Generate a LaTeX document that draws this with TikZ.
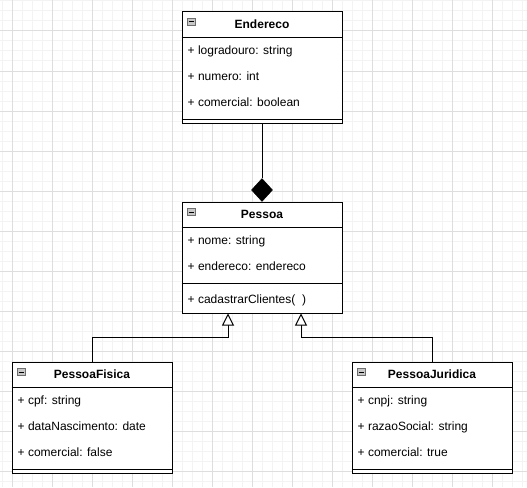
\documentclass[tikz,border=0pt]{standalone}
\usepackage{fontspec}
\setmainfont{Liberation Sans}
\usetikzlibrary{arrows.meta,shapes.geometric}
\definecolor{gridminor}{HTML}{F3F3F3}
\definecolor{gridmajor}{HTML}{DEDEDE}
\definecolor{iconfill}{HTML}{C8C8C8}
\definecolor{iconborder}{HTML}{6E6E6E}
\tikzset{
  boxline/.style={draw=black, line width=1pt},
  classbox/.style={draw=black, line width=1pt, fill=white, minimum width=160pt, minimum height=111pt, inner sep=0pt},
  classtitle/.style={font=\fontsize{12}{14}\selectfont\bfseries, anchor=base, inner sep=0pt},
  member/.style={font=\fontsize{12}{14}\selectfont, anchor=base west, inner sep=0pt},
  iconbox/.style={draw=iconborder, fill=iconfill, line width=0.8pt, minimum width=8pt, minimum height=7pt, inner sep=0pt},
  genarrow/.style={draw=black, line width=1pt, -{Triangle[length=12pt, width=12pt, fill=white]}},
  compdiamond/.style={diamond, fill=black, draw=black, line width=0.5pt, minimum width=21pt, minimum height=23pt, inner sep=0pt}
}
\newcommand\umlheader[2]{%
  \node[classtitle] (#1-title) at ([yshift=-17pt]#1.north) {#2};
  \draw[boxline] ([yshift=-26pt]#1.north west) -- ([yshift=-26pt]#1.north east);
  \node[iconbox] (#1-icon) at ([xshift=9.5pt,yshift=-10.5pt]#1.north west) {};
  \draw[line width=1pt] ([xshift=-2.5pt]#1-icon.center) -- ([xshift=2.5pt]#1-icon.center);
}
\newcommand\umlfoot[1]{%
  \draw[boxline] ([yshift=4pt]#1.south west) -- ([yshift=4pt]#1.south east);
}
\newcommand\umlmember[3]{%
  \node[member] (#1-m#2) at ([xshift=6pt,yshift=-#2pt]#1.north west) {#3};
}
\begin{document}
\begin{tikzpicture}[x=1pt,y=-1pt]
\useasboundingbox (0,0) rectangle (527,487);
\fill[white] (0,0) rectangle (527,487);
% grid
\foreach \gx in {2,12,...,522} \draw[gridminor, line width=1pt] (\gx,0) -- (\gx,487);
\foreach \gy in {1,11,...,481} \draw[gridminor, line width=1pt] (0,\gy) -- (527,\gy);
\foreach \gx in {12,52,...,492} \draw[gridmajor, line width=1pt] (\gx,0) -- (\gx,487);
\foreach \gy in {31,71,...,471} \draw[gridmajor, line width=1pt] (0,\gy) -- (527,\gy);

% Endereco
\node[classbox] (endereco) at (262,67.5) {};
\umlheader{endereco}{Endereco}
\umlmember{endereco}{43}{+ logradouro: string}
\umlmember{endereco}{69}{+ numero: int}
\umlmember{endereco}{95}{+ comercial: boolean}
\umlfoot{endereco}

% Pessoa
\node[classbox] (pessoa) at (262,257.5) {};
\umlheader{pessoa}{Pessoa}
\umlmember{pessoa}{43}{+ nome: string}
\umlmember{pessoa}{69}{+ endereco: endereco}
\draw[boxline] ([yshift=-82pt]pessoa.north west) -- ([yshift=-82pt]pessoa.north east);
\umlmember{pessoa}{102}{+ cadastrarClientes(\ \ )}

% PessoaFisica
\node[classbox] (pf) at (92,417.5) {};
\umlheader{pf}{PessoaFisica}
\umlmember{pf}{43}{+ cpf: string}
\umlmember{pf}{69}{+ dataNascimento: date}
\umlmember{pf}{95}{+ comercial: false}
\umlfoot{pf}

% PessoaJuridica
\node[classbox] (pj) at (432,417.5) {};
\umlheader{pj}{PessoaJuridica}
\umlmember{pj}{43}{+ cnpj: string}
\umlmember{pj}{69}{+ razaoSocial: string}
\umlmember{pj}{95}{+ comercial: true}
\umlfoot{pj}

% composition
\node[compdiamond] (comp) at ([yshift=11.5pt]pessoa.north) {};
\draw[boxline] (endereco.south) -- (comp.north);

% generalizations
\coordinate (pfjoin) at (228,337);
\coordinate (pjjoin) at (301,337);
\draw[genarrow] (pf.north) |- (pfjoin) -- (pfjoin |- pessoa.south);
\draw[genarrow] (pj.north) |- (pjjoin) -- (pjjoin |- pessoa.south);
\end{tikzpicture}
\end{document}
